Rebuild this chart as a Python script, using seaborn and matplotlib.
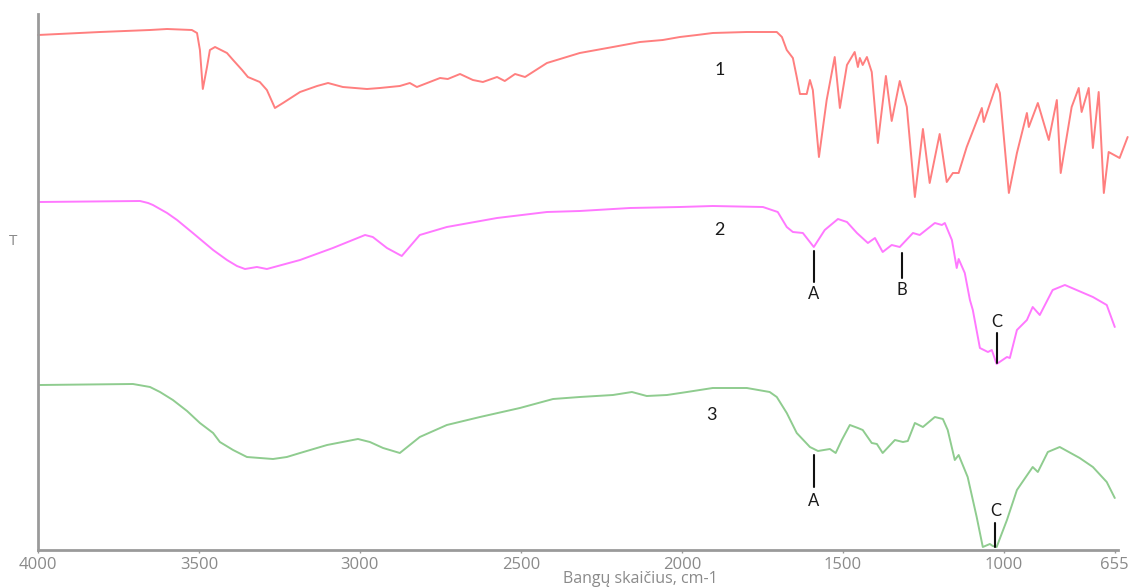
import matplotlib
matplotlib.use("Agg")
import matplotlib.pyplot as plt
import seaborn as sns
import pandas as pd

# ---- data (wavenumber cm-1, transmittance in arbitrary units) ----
w1 = [4000, 3807, 3652, 3599, 3522, 3506, 3497, 3488, 3475, 3466, 3450, 3413, 3394, 3366, 3348, 3311, 3289,
      3264, 3239, 3186, 3133, 3099, 3053, 2978, 2938, 2876, 2845, 2823, 2751, 2727, 2689, 2649,
      2618, 2574, 2550, 2518, 2487, 2419, 2317, 2214, 2130, 2059, 2006, 1953, 1904, 1798, 1705,
      1689, 1674, 1655, 1643, 1633, 1612, 1602, 1593, 1574, 1550, 1525, 1509, 1487, 1463, 1453,
      1447, 1438, 1425, 1410, 1391, 1366, 1348, 1323, 1301, 1276, 1251, 1230, 1199, 1177, 1158,
      1140, 1115, 1068, 1062, 1022, 1012, 984, 959, 928, 922, 894, 860, 835, 823, 789, 767, 758,
      736, 723, 705, 689, 674, 640, 615]
t1 = [103.0, 103.6, 104.0, 104.2, 104.0, 103.4, 100.0, 92.2, 96.6, 100.0, 100.6, 99.4, 98.0, 96.0, 94.6, 93.6, 92.0,
      88.4, 89.4, 91.6, 92.8, 93.4, 92.6, 92.2, 92.4, 92.8, 93.4, 92.6, 94.4, 94.2, 95.2, 94.0,
      93.6, 94.6, 93.8, 95.2, 94.6, 97.4, 99.4, 100.6, 101.6, 102.0, 102.6, 103.0, 103.4, 103.6, 103.6,
      102.6, 100.0, 98.4, 94.6, 91.2, 91.2, 94.0, 92.0, 78.6, 90.0, 98.6, 88.4, 97.0, 99.6, 96.6,
      98.4, 97.0, 98.6, 95.6, 81.4, 94.8, 85.8, 93.8, 88.6, 70.6, 84.2, 73.4, 83.2, 73.6, 75.4,
      75.4, 80.6, 88.4, 85.6, 93.2, 91.4, 71.4, 79.4, 87.4, 84.6, 89.4, 82.0, 90.0, 75.4, 88.6, 92.4, 87.6,
      92.4, 80.4, 91.6, 71.4, 79.6, 78.4, 82.6]

w2 = [3994, 3683, 3658, 3643, 3599, 3568, 3519, 3456, 3413, 3382, 3357, 3320, 3289, 3186, 3084, 2984, 2960,
      2916, 2870, 2814, 2730, 2574, 2419, 2317, 2161, 2006, 1904, 1748, 1702, 1674, 1655, 1624,
      1590, 1556, 1515, 1487, 1456, 1422, 1400, 1376, 1348, 1323, 1282, 1261, 1214, 1192, 1183,
      1161, 1146, 1140, 1121, 1105, 1096, 1074, 1049, 1037, 1022, 990, 981, 959, 928, 910, 888,
      848, 810, 723, 680, 655]
t2 = [69.6, 69.8, 69.4, 69.0, 67.4, 66.0, 63.4, 60.0, 58.0, 56.8, 56.2, 56.6, 56.2, 58.0, 60.4, 63.0, 62.6,
      60.4, 58.8, 63.0, 64.6, 66.4, 67.6, 67.8, 68.4, 68.6, 68.8, 68.6, 67.6, 64.6, 63.6, 63.4,
      60.6, 64.0, 66.2, 65.6, 63.4, 61.4, 62.4, 59.6, 61.0, 60.6, 63.4, 63.0, 65.4, 65.0, 65.4,
      62.0, 56.4, 58.2, 55.4, 50.0, 48.0, 40.4, 39.6, 40.0, 37.2, 38.6, 38.4, 44.0, 46.0, 48.6, 47.0,
      52.0, 53.0, 50.6, 49.0, 44.6]

w3 = [3994, 3705, 3652, 3621, 3581, 3537, 3497, 3456, 3435, 3394, 3351, 3270, 3227, 3186, 3102, 3006,
      2969, 2928, 2876, 2814, 2730, 2627, 2503, 2400, 2317, 2214, 2155, 2109, 2046, 1984, 1904,
      1798, 1727, 1705, 1674, 1643, 1602, 1577, 1540, 1522, 1503, 1478, 1453, 1438, 1410, 1394,
      1376, 1338, 1313, 1298, 1276, 1251, 1214, 1189, 1174, 1152, 1140, 1112, 1084, 1065, 1043,
      1034, 1022, 990, 959, 910, 894, 863, 826, 764, 723, 680, 655]
t3 = [33.0, 33.2, 32.6, 31.6, 30.0, 27.8, 25.4, 23.4, 21.6, 20.0, 18.6, 18.2, 18.6, 19.4, 21.0, 22.2,
      21.6, 20.4, 19.4, 22.6, 25.0, 26.6, 28.4, 30.2, 30.6, 31.0, 31.6, 30.8, 31.0, 31.6, 32.4,
      32.4, 31.6, 30.6, 27.4, 23.4, 20.6, 19.8, 20.2, 19.4, 22.0, 25.0, 24.4, 24.0, 21.4, 21.2,
      19.4, 22.0, 21.6, 21.8, 25.4, 24.6, 26.6, 26.2, 24.0, 18.0, 19.0, 14.6, 6.6, 0.6, 1.2,
      0.8, 0.6, 6.0, 12.0, 16.6, 15.6, 19.6, 20.6, 18.4, 16.6, 13.6, 10.4]

series_names = ["1", "2", "3"]
x_ticks = [4000, 3500, 3000, 2500, 2000, 1500, 1000, 655]
x_label = "Bangų skaičius, cm-1"
y_label = "T"

# peak markers: (label, wavenumber, line top, line bottom, text y)
peak_marks = [("A", 1590, 59.8, 53.6, 51.2),
              ("B", 1315, 59.4, 54.4, 52.0),
              ("C", 1022, 43.4, 37.4, 45.6),
              ("A", 1590, 19.0, 12.6, 9.8),
              ("C", 1026, 5.4, 0.6, 7.8)]
curve_labels = [("1", 1882, 96.0), ("2", 1882, 64.0), ("3", 1907, 27.0)]

# ---- plotting ----
sns.set_theme(style="white")
plt.rcParams['font.family'] = ['Open Sans', 'DejaVu Sans']

fig = plt.figure(figsize=(11.34, 5.88), dpi=100)
ax = fig.add_axes([38/1134, 38/588, 1080/1134, 536/588])

colors = ["#ff7f7f", "#ff78ff", "#8fcc8f"]
for w, t, c, name in zip([w1, w2, w3], [t1, t2, t3], colors, series_names):
    df = pd.DataFrame({"w": w, "t": t})
    sns.lineplot(data=df, x="w", y="t", ax=ax, color=c, lw=1.4,
                 estimator=None, sort=False, clip_on=False)

ax.set_xlim(4000, 645)
ax.set_ylim(0, 107.2)
ax.set_xticks(x_ticks)
ax.set_xticklabels([str(v) for v in x_ticks])
ax.set_yticks([])
ax.tick_params(axis="x", length=2.5, width=1, color="#999999", pad=2.5,
               labelsize=12, labelcolor="#8a8a8a", bottom=True)
for s in ["top", "right"]:
    ax.spines[s].set_visible(False)
for s in ["left", "bottom"]:
    ax.spines[s].set_color("#9a9a9a")
    ax.spines[s].set_linewidth(2)

ax.set_xlabel(x_label, fontsize=11.5, color="#8a8a8a")
ax.xaxis.set_label_coords((640 - 38) / 1080, -0.040)
ax.set_ylabel("")
ax.text(-0.023, 0.575, y_label, transform=ax.transAxes, fontsize=11,
        color="#8a8a8a", ha="center", va="center")

for lab, x, y in curve_labels:
    ax.text(x, y, lab, fontsize=13, color="#1a1a1a", ha="center", va="center",
            family=["Lato", "DejaVu Sans"])
for lab, x, y0, y1, ty in peak_marks:
    ax.plot([x, x], [y0, y1], color="#111111", lw=1.5, clip_on=False)
    ax.text(x, ty, lab, fontsize=12, color="#1a1a1a", ha="center", va="center",
            family=["Lato", "DejaVu Sans"])

fig.savefig("out.png", dpi=100)
